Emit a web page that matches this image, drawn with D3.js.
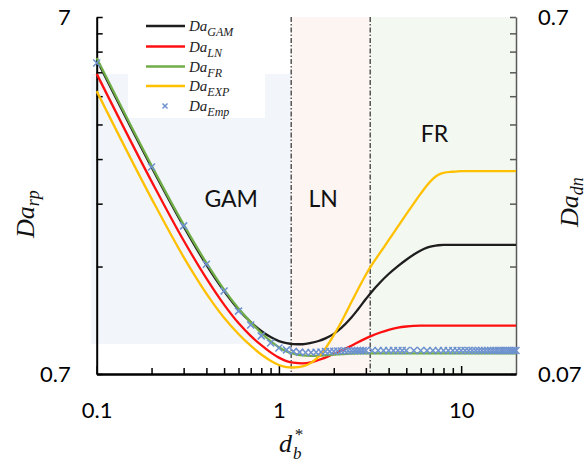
<!DOCTYPE html>
<html><head><meta charset="utf-8">
<script src="https://cdn.jsdelivr.net/npm/d3@7"></script>
<style>body{margin:0;background:#fff}svg{display:block}</style>
</head><body>
<svg id="c" width="587" height="465"></svg>
<script>
// ---------- data ----------
const dGrid = [0.1,0.2,0.3,0.4,0.5,0.6,0.7,0.8,0.9,1.0,1.1,1.2,1.35,1.5,1.65,1.8,2.0,2.2,2.45,2.7,3.0,3.2,3.6,4.0,4.5,5.0,5.5,6.0,6.5,7.0,7.5,8.0,9.0,10,12,15,20];
const daGAM = [5.31,2.656,1.814,1.416,1.196,1.062,0.979,0.924,0.888,0.865,0.854,0.849,0.848,0.855,0.866,0.881,0.907,0.942,0.996,1.058,1.135,1.183,1.265,1.334,1.404,1.463,1.513,1.553,1.582,1.597,1.606,1.61,1.61,1.61,1.61,1.61,1.61];
const daLN  = [4.85,2.425,1.656,1.297,1.095,0.972,0.895,0.843,0.805,0.778,0.761,0.753,0.750,0.755,0.766,0.778,0.797,0.814,0.836,0.858,0.881,0.894,0.915,0.931,0.944,0.951,0.955,0.956,0.956,0.956,0.956,0.956,0.956,0.956,0.956,0.956,0.956];
const daFR  = [5.37,2.685,1.834,1.433,1.206,1.068,0.978,0.912,0.865,0.832,0.810,0.798,0.789,0.787,0.788,0.790,0.793,0.796,0.798,0.80,0.80,0.80,0.80,0.80,0.80,0.80,0.80,0.80,0.80,0.80,0.80,0.80,0.80,0.80,0.80,0.80,0.80];
const daEXP = [4.34,2.17,1.488,1.176,1.006,0.906,0.84,0.794,0.763,0.742,0.732,0.730,0.735,0.752,0.783,0.826,0.899,0.979,1.091,1.202,1.328,1.403,1.533,1.659,1.813,1.962,2.105,2.241,2.366,2.465,2.53,2.563,2.58,2.59,2.59,2.59,2.59];
const empD = [0.1,0.2,0.3,0.4,0.5,0.6,0.7,0.8,0.9,1.0,1.1,1.2,1.3,1.4,1.5,1.6,1.7,1.8,1.9,2.0,2.1,2.2,2.3,2.4,2.5,2.6,2.7,2.8,2.9,3.0,3.25,3.5,3.75,4.0,4.25,4.5,4.75,5.0,5.5,6.0,6.5,7.0,7.5,8.0,8.5,9.0,9.5,10,10.5,11,11.5,12,12.5,13,13.5,14,14.5,15,15.5,16,16.5,17,17.5,18,18.5,19,19.5,20];
const empV = [5.20,2.66,1.82,1.42,1.196,1.05,0.96,0.895,0.855,0.828,0.818,0.810,0.806,0.804,0.804,0.805,0.807,0.809,0.810,0.811,0.812,0.812,0.813,0.813,0.813,0.814,0.814,0.814,0.814,0.815,0.815,0.815,0.815,0.815,0.815,0.815,0.815,0.815,0.815,0.815,0.815,0.815,0.815,0.815,0.815,0.815,0.815,0.815,0.815,0.815,0.815,0.815,0.815,0.815,0.815,0.815,0.815,0.815,0.815,0.815,0.815,0.815,0.815,0.815,0.815,0.815,0.815,0.815];

const xMajor = [0.1,1,10];
const xMinor = [0.2,0.3,0.4,0.5,0.6,0.7,0.8,0.9,2,3,4,5,6,7,8,9];
const yTicksL = [0.7,1.4,2.1,2.8,3.5,4.2,4.9,5.6,6.3,7];
const yTicksR = [0.07,0.14,0.21,0.28,0.35,0.42,0.49,0.56,0.63,0.7];
const yLabelsL = ["0.7","7"];
const yLabelsR = ["0.07","0.7"];

const regionNames = ["GAM","LN","FR"];
const regionD = [[0.093,1.168],[1.168,3.17],[3.17,20]];
const regionV = [[0.85,4.85],[0.7,7],[0.7,7]];
const regionLabelD = [0.547,1.751,7.13];
const regionLabelV = [2.06,2.06,3.13];

const seriesNames = ["GAM","LN","FR","EXP"];
const seriesVals = [daGAM,daLN,daFR,daEXP];
const seriesColors = ["#1e1e1e","#ff1010","#70ad47","#ffc000"];
const regionColors = ["#f2f6fb","#fdf5f2","#f3f8f1"];
const empColor = "#6e92cf";

// ---------- scales ----------
const svg = d3.select("#c");
const x = d3.scaleLog().domain([0.1,20]).range([96.7,516]);
const y = d3.scaleLog().domain([0.7,7]).range([374,17]);
const yR = d3.scaleLog().domain([0.07,0.7]).range([374,17]);

// regions
regionNames.forEach((n,i)=>{
  svg.append("rect")
    .attr("x",x(regionD[i][0])).attr("width",x(regionD[i][1])-x(regionD[i][0]))
    .attr("y",y(regionV[i][1])).attr("height",y(regionV[i][0])-y(regionV[i][1]))
    .attr("fill",regionColors[i]);
});

// legend box
svg.append("rect").attr("x",128).attr("y",10).attr("width",137).attr("height",108).attr("fill","#fff");

// region labels
regionNames.forEach((n,i)=>{
  svg.append("text").attr("x",x(regionLabelD[i])).attr("y",y(regionLabelV[i]))
    .attr("text-anchor","middle").attr("font-family","Lato, 'Open Sans', sans-serif")
    .attr("font-size",23).attr("fill","#111").text(n);
});

// boundaries
[regionD[0][1],regionD[1][1]].forEach(b=>{
  svg.append("line").attr("x1",x(b)).attr("x2",x(b)).attr("y1",y(7)).attr("y2",y(0.7))
    .attr("stroke","#555").attr("stroke-width",1.5).attr("stroke-dasharray","5,2,1.5,2");
});

// axes
const fontAxis = "Lato, 'Open Sans', sans-serif";
function styleAxis(g, domainColor){
  g.attr("font-family",fontAxis).attr("font-size",22);
  g.selectAll("text").attr("fill","#000");
  g.selectAll(".tick line").attr("stroke",domainColor).attr("stroke-width",1.5);
  g.select(".domain").attr("stroke",domainColor).attr("stroke-width",2);
}
const gl = svg.append("g").attr("transform",`translate(${x(0.1)},0)`)
  .call(d3.axisLeft(y).tickValues(yTicksL).tickSizeInner(-6).tickSizeOuter(0).tickPadding(26)
    .tickFormat(v=> (v===0.7?yLabelsL[0]:(v===7?yLabelsL[1]:""))));
styleAxis(gl,"#000");

const gr = svg.append("g").attr("transform",`translate(${x(20)},0)`)
  .call(d3.axisRight(yR).tickValues(yTicksR).tickSizeInner(-6).tickSizeOuter(0).tickPadding(22)
    .tickFormat(v=> (v===0.07?yLabelsR[0]:(v===0.7?yLabelsR[1]:""))));
styleAxis(gr,"#5a5a5a");
gr.select(".domain").attr("stroke-width",1.5);

const gbm = svg.append("g").attr("transform",`translate(0,${y(0.7)})`)
  .call(d3.axisBottom(x).tickValues(xMinor).tickSizeInner(-6).tickSizeOuter(0).tickFormat(""));
styleAxis(gbm,"#000");
const gb = svg.append("g").attr("transform",`translate(0,${y(0.7)})`)
  .call(d3.axisBottom(x).tickValues(xMajor).tickSizeInner(-8).tickSizeOuter(0).tickPadding(28)
    .tickFormat(v=> v===0.1?"0.1":(v===1?"1":"10")));
styleAxis(gb,"#000");

// curves
const line = d3.line().x(d=>x(d[0])).y(d=>y(d[1])).curve(d3.curveMonotoneX);
seriesVals.forEach((vals,i)=>{
  svg.append("path").attr("d",line(dGrid.map((d,j)=>[d,vals[j]])))
    .attr("fill","none").attr("stroke",seriesColors[i]).attr("stroke-width",2.3);
});

// empirical markers
function xMark(g,cx,cy,r){
  g.append("path").attr("d",`M${cx-r},${cy-r}L${cx+r},${cy+r}M${cx-r},${cy+r}L${cx+r},${cy-r}`)
    .attr("stroke",empColor).attr("stroke-width",1.5).attr("fill","none");
}
const gm = svg.append("g");
empD.forEach((d,i)=> xMark(gm,x(d),y(empV[i]),3.5));

// legend
const serif = "'Liberation Serif','DejaVu Serif',serif";
const legY = [26,46.5,66.5,86,106];
const legSub = ["GAM","LN","FR","EXP","Emp"];
legSub.forEach((s,i)=>{
  if(i<4){
    svg.append("line").attr("x1",146).attr("x2",185).attr("y1",legY[i]).attr("y2",legY[i])
      .attr("stroke",seriesColors[i]).attr("stroke-width",2.3);
  } else {
    xMark(svg,165,legY[i],2.5);
  }
  const t = svg.append("text").attr("x",189).attr("y",legY[i]+5)
    .attr("font-family",serif).attr("font-style","italic").attr("font-size",15).attr("fill","#222");
  t.append("tspan").text("Da");
  t.append("tspan").attr("font-size",12).attr("dy",5).text(s);
});

// axis titles
const tl = svg.append("text").attr("transform","translate(34,238) rotate(-90)")
  .attr("font-family",serif).attr("font-style","italic").attr("font-size",26).attr("fill","#111");
tl.append("tspan").text("Da");
tl.append("tspan").attr("font-size",18).attr("dy",5).text("rp");

const tr = svg.append("text").attr("transform","translate(578,227) rotate(-90)")
  .attr("font-family",serif).attr("font-style","italic").attr("font-size",26).attr("fill","#111");
tr.append("tspan").text("Da");
tr.append("tspan").attr("font-size",18).attr("dy",5).text("dn");

svg.append("text").attr("x",279).attr("y",452).attr("font-family",serif).attr("font-style","italic")
  .attr("font-size",26).attr("fill","#111").text("d");
svg.append("text").attr("x",293).attr("y",459).attr("font-family",serif).attr("font-style","italic")
  .attr("font-size",17).attr("fill","#111").text("b");
svg.append("text").attr("x",294).attr("y",440).attr("font-family",serif).attr("font-style","italic")
  .attr("font-size",17).attr("fill","#111").text("*");
</script>
</body></html>
